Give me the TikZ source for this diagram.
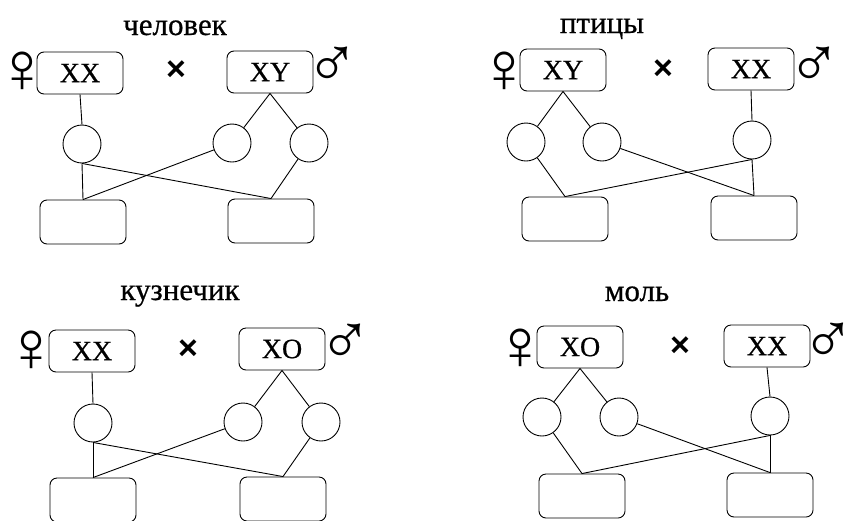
\documentclass[tikz,border=0pt]{standalone}
\usepackage{fontspec}
\setmainfont{Liberation Serif}[FakeBold=0.6]
\newfontfamily\symfont{Liberation Serif}
\newfontfamily\crossfont{Liberation Sans Bold}
\begin{document}
\begin{tikzpicture}[x=1pt,y=-1pt,
  line width=0.9pt,
  gbox/.style={draw, rounded corners=7pt, minimum width=86pt, minimum height=42pt, inner sep=0pt, font=\fontsize{28}{28}\selectfont},
  obox/.style={draw, rounded corners=7pt, minimum width=86pt, minimum height=44pt, inner sep=0pt},
  cell/.style={draw, circle, minimum size=38pt, inner sep=0pt},
  ttl/.style={font=\fontsize{31}{31}\selectfont, inner sep=0pt, anchor=base},
  sym/.style={font=\symfont\fontsize{72}{72}\selectfont, inner sep=0pt},
  crs/.style={font=\crossfont\fontsize{34}{34}\selectfont, inner sep=0pt},
  conn/.style={line width=0.9pt}]
\useasboundingbox (0,0) rectangle (845,520);
% ---------- panel 1: человек
\node[ttl] (t1) at (175,35) {человек};
\node[sym] (f1) at (22,72) {♀};
\node[gbox] (p1a) at (80,73) {XX};
\node[crs] (x1) at (176,71) {×};
\node[gbox] (p1b) at (270,72) {XY};
\node[sym] (m1) at (332,67) {♂};
\node[cell] (c1a) at (82,144) {};
\node[cell] (c1b) at (232,143) {};
\node[cell] (c1c) at (309,143) {};
\node[obox] (b1a) at (83,222) {};
\node[obox] (b1b) at (271,221) {};
\draw[conn] (p1a.south) -- (c1a.north);
\draw[conn] (p1b.south) -- (c1b);
\draw[conn] (p1b.south) -- (c1c);
\draw[conn] (c1a.south) -- (b1a.north);
\draw[conn] (c1a.south) -- (b1b.north);
\draw[conn] (c1b) -- (b1a.north);
\draw[conn] (c1c) -- (b1b.north);
% ---------- panel 2: птицы
\node[ttl] (t2) at (602,33) {птицы};
\node[sym] (f2) at (504,72) {♀};
\node[gbox] (p2a) at (563,70) {XY};
\node[crs] (x2) at (663,70) {×};
\node[gbox] (p2b) at (751,69) {XX};
\node[sym] (m2) at (814,67) {♂};
\node[cell] (c2a) at (526,142) {};
\node[cell] (c2b) at (602,142) {};
\node[cell] (c2c) at (752,140) {};
\node[obox] (b2a) at (565,219) {};
\node[obox] (b2b) at (754,218) {};
\draw[conn] (p2a.south) -- (c2a);
\draw[conn] (p2a.south) -- (c2b);
\draw[conn] (p2b.south) -- (c2c.north);
\draw[conn] (c2a) -- (b2a.north);
\draw[conn] (c2b) -- (b2b.north);
\draw[conn] (c2c.south) -- (b2a.north);
\draw[conn] (c2c.south) -- (b2b.north);
% ---------- panel 3: кузнечик
\node[ttl] (t3) at (180,300) {кузнечик};
\node[sym] (f3) at (32,351) {♀};
\node[gbox] (p3a) at (92,351) {XX};
\node[crs] (x3) at (188,350) {×};
\node[gbox] (p3b) at (282,349) {XO};
\node[sym] (m3) at (345,344) {♂};
\node[cell] (c3a) at (93,423) {};
\node[cell] (c3b) at (243,422) {};
\node[cell] (c3c) at (321,422) {};
\node[obox] (b3a) at (93,500) {};
\node[obox] (b3b) at (283,499) {};
\draw[conn] (p3a.south) -- (c3a.north);
\draw[conn] (p3b.south) -- (c3b);
\draw[conn] (p3b.south) -- (c3c);
\draw[conn] (c3a.south) -- (b3a.north);
\draw[conn] (c3a.south) -- (b3b.north);
\draw[conn] (c3b) -- (b3a.north);
\draw[conn] (c3c) -- (b3b.north);
% ---------- panel 4: моль
\node[ttl] (t4) at (637,301) {моль};
\node[sym] (f4) at (520,349) {♀};
\node[gbox] (p4a) at (580,347) {XO};
\node[crs] (x4) at (680,347) {×};
\node[gbox] (p4b) at (767,346) {XX};
\node[sym] (m4) at (828,343) {♂};
\node[cell] (c4a) at (542,417) {};
\node[cell] (c4b) at (619,417) {};
\node[cell] (c4c) at (770,416) {};
\node[obox] (b4a) at (582,496) {};
\node[obox] (b4b) at (770,495) {};
\draw[conn] (p4a.south) -- (c4a);
\draw[conn] (p4a.south) -- (c4b);
\draw[conn] (p4b.south) -- (c4c.north);
\draw[conn] (c4a) -- (b4a.north);
\draw[conn] (c4b) -- (b4b.north);
\draw[conn] (c4c.south) -- (b4a.north);
\draw[conn] (c4c.south) -- (b4b.north);
\end{tikzpicture}
\end{document}
